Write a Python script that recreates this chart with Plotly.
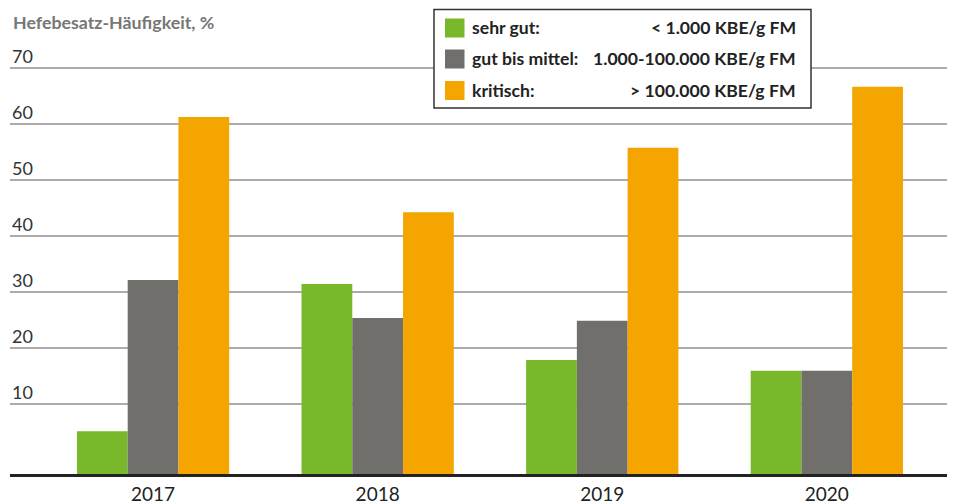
import plotly.graph_objects as go

years = ["2017", "2018", "2019", "2020"]
sehr_gut = [5.2, 31.5, 17.9, 16.0]
gut_bis_mittel = [32.2, 25.4, 24.9, 16.0]
kritisch = [61.3, 44.3, 55.8, 66.7]

series_names = ["sehr gut:", "gut bis mittel:", "kritisch:"]
series_ranges = ["< 1.000 KBE/g FM", "1.000-100.000 KBE/g FM", "> 100.000 KBE/g FM"]
series_colors = ["#78b82a", "#706f6c", "#f5a500"]
y_ticks = [10, 20, 30, 40, 50, 60, 70]
y_title = "Hefebesatz-Häufigkeit, %"

Y_FLOOR = -2.45
Y_TOP = 75.05
FONT = "Lato"

# page body margin offset (the figure div sits 8px in from the page corner)
OFF = 8
W, H = 955 - OFF, 504 - OFF
ml, mr, mt, mb = 10 - OFF, 8, 40 - OFF, 30
pw, ph = W - ml - mr, H - mt - mb
px = lambda x: (x - OFF - ml) / pw
py = lambda y: 1 - (y - OFF - mt) / ph

fig = go.Figure()
for name, vals, col in zip(series_names, [sehr_gut, gut_bis_mittel, kritisch], series_colors):
    fig.add_trace(go.Bar(
        x=years, y=[v - Y_FLOOR for v in vals], base=Y_FLOOR,
        name=name, marker=dict(color=col, line=dict(width=0)),
        customdata=vals, hovertemplate="%{x}: %{customdata}%<extra>" + name + "</extra>",
    ))

fig.update_layout(
    width=W, height=H,
    margin=dict(l=ml, r=mr, t=mt, b=mb, autoexpand=False),
    paper_bgcolor="white", plot_bgcolor="white",
    barmode="group", bargap=0.322, bargroupgap=0,
    showlegend=False,
    font=dict(family=FONT, color="#222"),
    xaxis=dict(
        type="category", range=[-0.637, 3.535], automargin=False,
        showline=True, linecolor="#222", linewidth=2.5,
        showgrid=False, zeroline=False, ticks="",
        tickfont=dict(size=19, color="#222"), ticklabelstandoff=1,
    ),
    yaxis=dict(
        range=[Y_FLOOR, Y_TOP], tickvals=y_ticks, showticklabels=False,
        showgrid=True, gridcolor="#ababab", gridwidth=1.5,
        zeroline=False, showline=False, automargin=False,
    ),
)

# y tick labels above gridlines
for v in y_ticks:
    fig.add_annotation(
        xref="paper", yref="y", x=0, y=v, text=str(v), showarrow=False,
        xanchor="left", yanchor="bottom", yshift=-1,
        font=dict(size=18, color="#333", family=FONT),
    )

# y axis title
fig.add_annotation(
    xref="paper", yref="paper", x=px(11), y=py(21.5), text="<b>" + y_title + "</b>",
    showarrow=False, xanchor="left", yanchor="middle",
    font=dict(size=17.8, color="#777", family=FONT),
)

# manual legend
fig.add_shape(type="rect", xref="paper", yref="paper",
              x0=px(434), x1=px(811), y0=py(108), y1=py(9.5),
              line=dict(color="#333", width=1.5), fillcolor="white", layer="above")
row_y = [28, 59, 90.5]
for ry, name, rng, col in zip(row_y, series_names, series_ranges, series_colors):
    fig.add_shape(type="rect", xref="paper", yref="paper",
                  x0=px(445), x1=px(464.5), y0=py(ry + 9.5), y1=py(ry - 9.5),
                  line=dict(width=0), fillcolor=col, layer="above")
    fig.add_annotation(xref="paper", yref="paper", x=px(470), y=py(ry),
                       text="<b>" + name + "</b>", showarrow=False,
                       xanchor="left", yanchor="middle",
                       font=dict(size=17.6, color="#222", family=FONT))
    fig.add_annotation(xref="paper", yref="paper", x=px(798), y=py(ry),
                       text="<b>" + rng + "</b>", showarrow=False,
                       xanchor="right", yanchor="middle",
                       font=dict(size=17.6, color="#222", family=FONT))

fig.write_html("out.html")
